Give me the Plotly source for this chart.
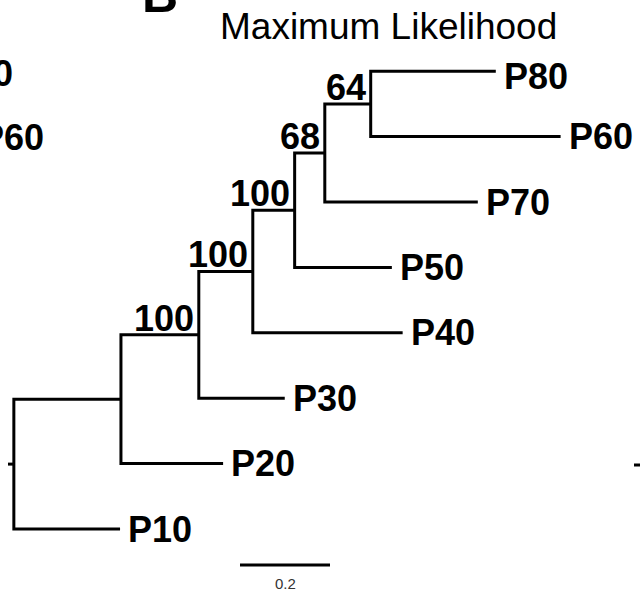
import plotly.graph_objects as go

# ---------------- data ----------------
node_names = ["root", "A", "B", "C", "D", "E", "F",
              "P10", "P20", "P30", "P40", "P50", "P70", "P60", "P80"]
node_parents = [None, "root", "A", "B", "C", "D", "E",
                "root", "A", "B", "C", "D", "E", "F", "F"]
branch_lengths = [0.013, 0.238, 0.173, 0.120, 0.093, 0.067, 0.102,
                  0.236, 0.227, 0.191, 0.333, 0.216, 0.340, 0.422, 0.278]
bootstrap_support = [None, None, 100, 100, 100, 68, 64,
                     None, None, None, None, None, None, None, None]
leaf_order = ["P10", "P20", "P30", "P40", "P50", "P70", "P60", "P80"]
scale_bar_length = 0.2
scale_bar_label = "0.2"
title_text = "Maximum Likelihood"
panel_letter = "B"
neighbor_labels = ["P80", "P60"]   # cut-off tip labels of the neighbouring panel

# ---------------- tree layout ----------------
parent = dict(zip(node_names, node_parents))
blen = dict(zip(node_names, branch_lengths))
support = dict(zip(node_names, bootstrap_support))
children = {n: [] for n in node_names}
for n, p in zip(node_names, node_parents):
    if p is not None:
        children[p].append(n)

xpos, ypos = {}, {}


def set_x(n, base):
    xpos[n] = base + blen[n]
    for c in children[n]:
        set_x(c, xpos[n])


def set_y(n):
    if not children[n]:
        ypos[n] = leaf_order.index(n)
    else:
        ys = [set_y(c) for c in children[n]]
        ypos[n] = sum(ys) / len(ys)
    return ypos[n]


set_x("root", 0.0)
set_y("root")

xs, ys = [], []
# root stub
xs += [0.0, xpos["root"], None]
ys += [ypos["root"], ypos["root"], None]
for n in node_names:
    ch = sorted(children[n], key=lambda c: ypos[c])
    if not ch:
        continue
    lo, hi = ch[0], ch[-1]
    xs += [xpos[lo], xpos[n], xpos[n], xpos[hi], None]
    ys += [ypos[lo], ypos[lo], ypos[hi], ypos[hi], None]
    for mid in ch[1:-1]:
        xs += [xpos[n], xpos[mid], None]
        ys += [ypos[mid], ypos[mid], None]

# ---------------- figure ----------------
W, H = 640, 591
PX_PER_UNIT = 450.0
X0_PX = 8.0                # pixel of x = 0
LEAF_SPACING_PX = 65.4
LEAF0_PX = 529.0           # pixel of leaf index 0

x_range = [-X0_PX / PX_PER_UNIT, (W - X0_PX) / PX_PER_UNIT]
y_range = [-(H - LEAF0_PX) / LEAF_SPACING_PX, LEAF0_PX / LEAF_SPACING_PX]

FONT = "Liberation Sans, Arial, sans-serif"

fig = go.Figure()
fig.add_trace(go.Scatter(x=xs, y=ys, mode="lines",
                         line=dict(color="black", width=3),
                         hoverinfo="skip", showlegend=False))

annotations = []
label_yshift = {"P80": -5}
for n in leaf_order:
    annotations.append(dict(x=xpos[n], y=ypos[n], xref="x", yref="y",
                            text="<b>%s</b>" % n, showarrow=False,
                            xanchor="left", yanchor="middle",
                            xshift=6, yshift=label_yshift.get(n, 0),
                            font=dict(family=FONT, size=36, color="black")))
for n in node_names:
    if support[n] is not None:
        annotations.append(dict(x=xpos[n], y=ypos[n], xref="x", yref="y",
                                text="<b>%d</b>" % support[n], showarrow=False,
                                xanchor="right", yanchor="bottom",
                                xshift=-3, yshift=-6,
                                font=dict(family=FONT, size=36, color="black")))

# scale bar
sb_x0 = (240 - X0_PX) / PX_PER_UNIT
sb_y = -(565 - LEAF0_PX) / LEAF_SPACING_PX
fig.add_shape(type="line", xref="x", yref="y", x0=sb_x0, x1=sb_x0 + scale_bar_length,
              y0=sb_y, y1=sb_y, line=dict(color="black", width=3))
annotations.append(dict(x=sb_x0 + scale_bar_length / 2,
                        y=-(583 - LEAF0_PX) / LEAF_SPACING_PX,
                        xref="x", yref="y", text=scale_bar_label, showarrow=False,
                        xanchor="center", yanchor="middle",
                        font=dict(family=FONT, size=15, color="#333333")))

# title and panel letter
annotations.append(dict(x=388 / W, y=1 - 26 / H, xref="paper", yref="paper",
                        text=title_text, showarrow=False,
                        xanchor="center", yanchor="middle",
                        font=dict(family=FONT, size=37, color="black")))
annotations.append(dict(x=160 / W, y=1 + 5 / H, xref="paper", yref="paper",
                        text="<b>%s</b>" % panel_letter, showarrow=False,
                        xanchor="center", yanchor="middle",
                        font=dict(family=FONT, size=50, color="black")))

# neighbouring panel remnants
for lab, xr, yc in zip(neighbor_labels, [15, 46], [74, 137.5]):
    annotations.append(dict(x=xr / W, y=1 - yc / H, xref="paper", yref="paper",
                            text="<b>%s</b>" % lab, showarrow=False,
                            xanchor="right", yanchor="middle",
                            font=dict(family=FONT, size=36, color="black")))
fig.add_shape(type="line", xref="paper", yref="paper", x0=634 / W, x1=1.0,
              y0=1 - 465 / H, y1=1 - 465 / H, line=dict(color="black", width=3))

fig.update_layout(
    width=W, height=H,
    margin=dict(l=0, r=0, t=0, b=0),
    paper_bgcolor="white", plot_bgcolor="white",
    xaxis=dict(range=x_range, visible=False, fixedrange=True),
    yaxis=dict(range=y_range, visible=False, fixedrange=True),
    annotations=annotations,
    showlegend=False,
)

fig.write_html("out.html")
